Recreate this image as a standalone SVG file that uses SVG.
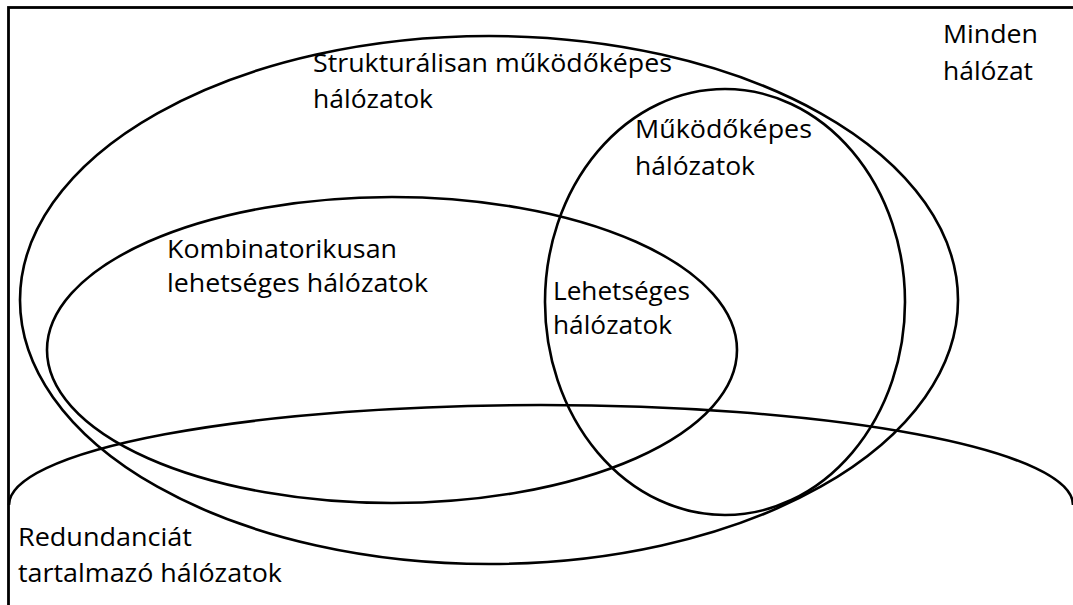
<svg xmlns="http://www.w3.org/2000/svg" width="1073" height="605" viewBox="0 0 1073 605">
  <style>
    .set { fill: none; stroke: #000; stroke-width: 2.6; }
    .frame { fill: none; stroke: #000; stroke-width: 2.8; }
    .lbl { font-family: "Open Sans", "Noto Sans", sans-serif; font-size: 26px; fill: #000; }
  </style>
  <rect width="1073" height="605" fill="#fff"/>

  <!-- universe: all networks -->
  <g id="all">
    <rect class="frame" x="8.5" y="7.5" width="1080" height="620"/>
    <text class="lbl" x="943" y="43" textLength="95" lengthAdjust="spacingAndGlyphs">Minden</text>
    <text class="lbl" x="943" y="80" textLength="90" lengthAdjust="spacingAndGlyphs">hálózat</text>
  </g>

  <!-- structurally functional networks -->
  <g id="structural">
    <ellipse class="set" cx="489" cy="300" rx="469" ry="264"/>
    <text class="lbl" x="313" y="72" textLength="359" lengthAdjust="spacingAndGlyphs">Strukturálisan működőképes</text>
    <text class="lbl" x="313" y="108" textLength="120" lengthAdjust="spacingAndGlyphs">hálózatok</text>
  </g>

  <!-- combinatorially possible networks -->
  <g id="combinatorial">
    <ellipse class="set" cx="392" cy="350" rx="345" ry="153"/>
    <text class="lbl" x="167" y="258" textLength="230" lengthAdjust="spacingAndGlyphs">Kombinatorikusan</text>
    <text class="lbl" x="167" y="292" textLength="261" lengthAdjust="spacingAndGlyphs">lehetséges hálózatok</text>
  </g>

  <!-- functional networks -->
  <g id="functional">
    <ellipse class="set" cx="725" cy="302" rx="180" ry="213"/>
    <text class="lbl" x="635" y="138" textLength="177" lengthAdjust="spacingAndGlyphs">Működőképes</text>
    <text class="lbl" x="635" y="175" textLength="120" lengthAdjust="spacingAndGlyphs">hálózatok</text>
  </g>

  <!-- possible networks (intersection label) -->
  <g id="possible">
    <text class="lbl" x="553" y="300" textLength="137" lengthAdjust="spacingAndGlyphs">Lehetséges</text>
    <text class="lbl" x="553" y="334" textLength="119" lengthAdjust="spacingAndGlyphs">hálózatok</text>
  </g>

  <!-- networks containing redundancy: only the upper arc lies inside the frame -->
  <g id="redundant">
    <path class="set" d="M 9 505 A 532 100 0 0 1 1073 505"/>
    <text class="lbl" x="18" y="546" textLength="174" lengthAdjust="spacingAndGlyphs">Redundanciát</text>
    <text class="lbl" x="18" y="582" textLength="264" lengthAdjust="spacingAndGlyphs">tartalmazó hálózatok</text>
  </g>

  <g id="connectors"/>
</svg>
